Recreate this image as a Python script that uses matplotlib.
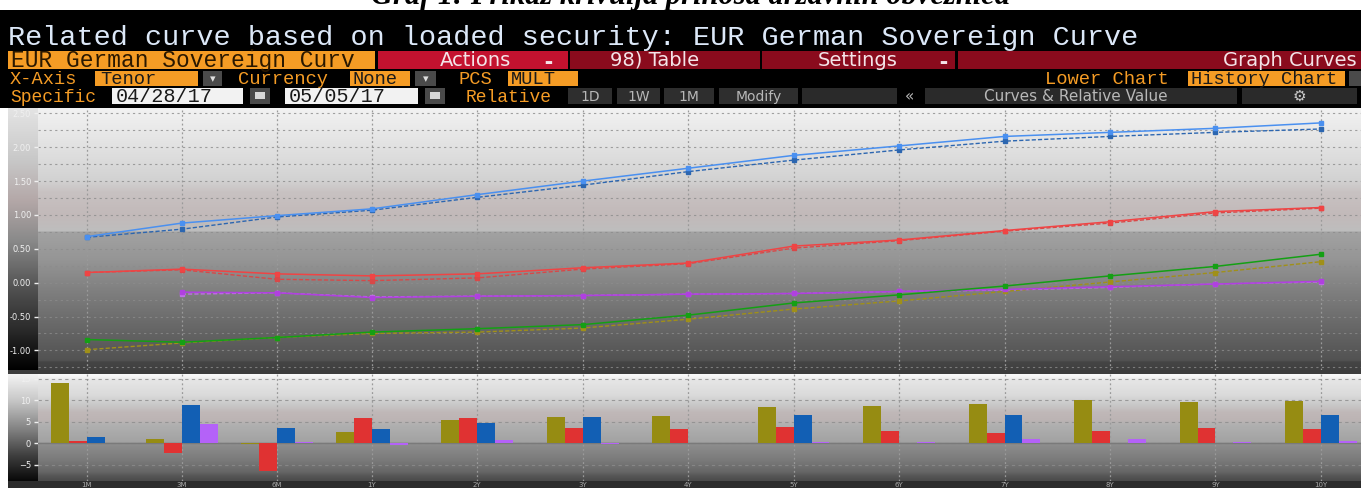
import numpy as np
import matplotlib.pyplot as plt
from matplotlib.colors import to_rgb
from matplotlib.patches import Rectangle

W, H = 1361, 488

# ---- data ----
tenors = ['1M', '3M', '6M', '1Y', '2Y', '3Y', '4Y', '5Y', '6Y', '7Y', '8Y', '9Y', '10Y']
xpos = [0, 0.9, 1.8, 2.7, 3.7, 4.7, 5.7, 6.7, 7.7, 8.7, 9.7, 10.7, 11.7]

blue_now = [0.68, 0.88, 0.99, 1.09, 1.30, 1.50, 1.69, 1.88, 2.02, 2.16, 2.22, 2.28, 2.36]
blue_prev = [0.67, 0.79, 0.97, 1.07, 1.26, 1.44, 1.64, 1.81, 1.96, 2.09, 2.16, 2.22, 2.27]
red_now = [0.15, 0.20, 0.13, 0.10, 0.13, 0.22, 0.29, 0.54, 0.63, 0.77, 0.90, 1.05, 1.11]
red_prev = [0.15, 0.19, 0.05, 0.03, 0.07, 0.20, 0.28, 0.51, 0.62, 0.76, 0.88, 1.03, 1.10]
purple_now = [np.nan, -0.14, -0.15, -0.22, -0.20, -0.19, -0.17, -0.16, -0.13, -0.10, -0.06, -0.02, 0.02]
purple_prev = [np.nan, -0.17, -0.15, -0.21, -0.20, -0.19, -0.17, -0.16, -0.13, -0.11, -0.07, -0.02, 0.01]
green_now = [-0.84, -0.88, -0.81, -0.73, -0.68, -0.62, -0.48, -0.30, -0.18, -0.05, 0.10, 0.24, 0.42]
green_prev = [-0.99, -0.89, -0.81, -0.75, -0.73, -0.67, -0.54, -0.39, -0.27, -0.13, 0.01, 0.15, 0.31]

# changes in bp (lower chart)
chg_olive = [14.0, 1.0, -0.3, 2.6, 5.3, 6.0, 6.4, 8.5, 8.7, 9.2, 10.1, 9.5, 9.9]
chg_red = [0.5, -2.3, -6.5, 5.9, 5.9, 3.5, 3.4, 3.7, 2.9, 2.3, 2.8, 3.5, 3.2]
chg_blue = [1.5, 9.0, 3.5, 3.2, 4.6, 6.0, 0.0, 6.6, 0.0, 6.6, 0.0, 0.0, 6.6]
chg_purple = [0.0, 4.4, 0.2, -0.5, 0.8, -0.2, 0.1, 0.3, 0.3, 0.9, 0.9, 0.3, 0.5]

top_ticks = [-1.0, -0.5, 0.0, 0.5, 1.0, 1.5, 2.0, 2.5]
low_ticks = [-5, 0, 5, 10, 15]

MONO = 'Liberation Mono'

fig = plt.figure(figsize=(W / 100, H / 100), dpi=100, facecolor='white')


def box(x0, y0, x1, y1, color, z=1):
    fig.add_artist(Rectangle((x0 / W, 1 - y1 / H), (x1 - x0) / W, (y1 - y0) / H,
                             transform=fig.transFigure, facecolor=color,
                             edgecolor='none', zorder=z))


def label(x, y, s, color, size, family=MONO, ha='left', **kw):
    fig.text(x / W, 1 - y / H, s, color=color, fontsize=size, family=family,
             ha=ha, va='baseline', zorder=5, **kw)


def gradient(ax, stops, y0, y1):
    ys = np.linspace(y0, y1, 400)
    pos = [s[0] for s in stops]
    cols = np.array([to_rgb(s[1]) for s in stops])
    img = np.stack([np.interp(ys, pos, cols[:, k]) for k in range(3)], axis=-1)[:, None, :]
    ax.imshow(img, extent=[0, 1, 0, 1], transform=ax.transAxes, aspect='auto',
              zorder=0, interpolation='bilinear')


# ---- caption (cut off at top) ----
fig.text(690 / W, 1 - 4 / H, 'Graf 1: Prikaz krivulja prinosa državnih obveznica',
         ha='center', va='baseline', family='Liberation Serif', fontweight='bold',
         style='italic', fontsize=22, color='black')

# ---- black Bloomberg header ----
box(0, 10, W, 108, 'black', z=0)
label(8, 45, 'Related curve based on loaded security: EUR German Sovereign Curve',
      '#dce8f8', 20.5)

# row 2
orange = '#f59c25'
darkred = '#8a0b1d'
box(8, 51, 375, 69, orange)
label(11, 67, 'EUR German Sovereign Curv', '#2a1800', 16.5)
box(378, 51, 568, 69, '#c3122f')
label(475, 66, 'Actions', '#f4e4e8', 14, family='DejaVu Sans', ha='center')
label(548, 65, '▬', '#f4e4e8', 6, family='DejaVu Sans', ha='center')
box(570, 51, 760, 69, darkred)
label(655, 66, '98) Table', '#f4e4e8', 14, family='DejaVu Sans', ha='center')
box(762, 51, 955, 69, darkred)
label(858, 66, 'Settings', '#f4e4e8', 14, family='DejaVu Sans', ha='center')
label(943, 65, '▬', '#f4e4e8', 6, family='DejaVu Sans', ha='center')
box(958, 51, W, 69, darkred)
label(1357, 66, 'Graph Curves', '#f4e4e8', 14, family='DejaVu Sans', ha='right')

# row 3
label(10, 84, 'X-Axis', orange, 13.5)
box(95, 71, 198, 86, orange)
label(100, 84, 'Tenor', '#1a1a1a', 13.5)
box(203, 71, 222, 86, '#4a4a4a')
label(212.5, 82, '▾', '#e0e0e0', 8, family='DejaVu Sans', ha='center')
label(238, 84, 'Currency', orange, 13.5)
box(350, 71, 410, 86, orange)
label(353, 84, 'None', '#1a1a1a', 13.5)
box(415, 71, 436, 86, '#4a4a4a')
label(425.5, 82, '▾', '#e0e0e0', 8, family='DejaVu Sans', ha='center')
label(458, 84, 'PCS', orange, 13.5)
box(508, 71, 578, 86, orange)
label(511, 84, 'MULT', '#1a1a1a', 13.5)
label(1045, 84, 'Lower Chart', orange, 13.5)
box(1188, 71, 1345, 86, orange)
label(1191, 84, 'History Chart', '#1a1a1a', 13.5)
box(1349, 71, W, 86, '#4a4a4a')

# row 4
label(10, 102, 'Specific', orange, 13)
box(112, 88, 243, 104, '#f2f2f2')
label(116, 102, '04/28/17', '#1a1a1a', 14.5)
box(250, 88, 270, 104, '#4a4a4a')
box(255, 92, 265, 99, '#d8d8d8')
box(285, 88, 418, 104, '#f2f2f2')
label(289, 102, '05/05/17', '#1a1a1a', 14.5)
box(425, 88, 445, 104, '#4a4a4a')
box(430, 92, 440, 99, '#d8d8d8')
label(466, 102, 'Relative', orange, 13)
for x0, x1, s in [(568, 612, '1D'), (617, 660, '1W'), (664, 714, '1M'), (719, 798, 'Modify')]:
    box(x0, 88, x1, 104, '#2e2e2e')
    label((x0 + x1) / 2, 101, s, '#b8b8b8', 10, family='DejaVu Sans', ha='center')
box(802, 88, 897, 104, '#2a2a2a')
label(910, 101, '«', '#b8b8b8', 11, family='DejaVu Sans', ha='center')
box(925, 88, 1237, 104, '#2a2a2a')
label(1076, 101, 'Curves & Relative Value', '#b8b8b8', 11, family='DejaVu Sans', ha='center')
box(1242, 88, 1357, 104, '#2a2a2a')
label(1299, 101, '⚙', '#c8c8c8', 11, family='DejaVu Sans', ha='center')

# ---- chart frames ----
box(8, 370, W, 374, '#3c3c3c', z=0)
box(8, 481, W, H, '#2c2c2c', z=0)

# left label strips
s1 = fig.add_axes([8 / W, 1 - 370 / H, 30 / W, 262 / H])
gradient(s1, [(108, '#e4e4e4'), (160, '#c8c8c8'), (200, '#b4a8a8'), (240, '#8a8a8a'),
              (290, '#505050'), (330, '#2a2a2a'), (370, '#000000')], 108, 370)
s1.axis('off')
s2 = fig.add_axes([8 / W, 1 - 481 / H, 30 / W, 107 / H])
gradient(s2, [(374, '#f4f4f4'), (400, '#c8c8c8'), (430, '#808080'), (455, '#404040'),
              (481, '#080808')], 374, 481)
s2.axis('off')

# ---- upper chart: curves ----
ax1 = fig.add_axes([38 / W, 1 - 370 / H, (W - 38) / W, 262 / H])
gradient(ax1, [(108, '#f2f2f2'), (125, '#ebebeb'), (150, '#e0e0e0'), (180, '#d2d2d2'),
               (192, '#c8c2c2'), (215, '#c2b9b9'), (231, '#bebebe'), (232, '#a2a2a2'),
               (260, '#959595'), (290, '#808080'), (320, '#6c6c6c'), (345, '#5c5c5c'),
               (361, '#525252'), (362, '#454545'), (370, '#404040')], 108, 370)

ax1.set_xticks(xpos)
ax1.set_yticks(top_ticks)
ax1.set_yticks(np.arange(-1.25, 2.6, 0.25), minor=True)
ax1.grid(True, which='both', axis='y', color='#8c8c8c', linestyle=(0, (2, 3)), lw=0.8, alpha=0.8)
ax1.grid(True, axis='x', color='#9a9a9a', linestyle=(0, (1.5, 2)), lw=0.9)

mk = dict(marker='s', markersize=3.2)
ax1.plot(xpos, blue_prev, color='#2c66b0', lw=1, ls=(0, (3, 1.5)), **mk, zorder=3)
ax1.plot(xpos, blue_now, color='#4a90f0', lw=1.1, **mk, zorder=4)
ax1.plot(xpos, red_prev, color='#d84848', lw=1, ls=(0, (3, 1.5)), **mk, zorder=3)
ax1.plot(xpos, red_now, color='#f04444', lw=1.1, **mk, zorder=4)
ax1.plot(xpos, purple_prev, color='#c070e8', lw=1, ls=(0, (3, 1.5)), **mk, zorder=3)
ax1.plot(xpos, purple_now, color='#b040e0', lw=1.1, **mk, zorder=4)
ax1.plot(xpos, green_prev, color='#a09018', lw=1, ls=(0, (3, 1.5)), **mk, zorder=3)
ax1.plot(xpos, green_now, color='#14a014', lw=1.1, **mk, zorder=4)

ax1.set_xlim(-0.464, 12.08)
ax1.set_ylim(-1.29, 2.58)
ax1.set_yticklabels(['%.2f' % t for t in top_ticks])
ax1.tick_params(axis='y', which='major', colors='#f0f0f0', labelsize=6, length=3, width=1, pad=2)
ax1.tick_params(axis='y', which='minor', length=0)
ax1.tick_params(axis='x', length=0, labelbottom=False)
for sp in ax1.spines.values():
    sp.set_visible(False)

# ---- lower chart: changes (bp) ----
ax2 = fig.add_axes([38 / W, 1 - 481 / H, (W - 38) / W, 107 / H])
gradient(ax2, [(374, '#fafafa'), (378, '#f0f0f0'), (380, '#e6e6e6'), (395, '#dadada'),
               (405, '#c8c8c8'), (412, '#c0b8b8'), (420, '#bcb4b4'), (425, '#b0b0b0'),
               (442, '#a2a2a2'), (444, '#8e8e8e'), (460, '#7a7a7a'), (472, '#666666'),
               (476, '#565656'), (481, '#4a4a4a')], 374, 481)

bw = 0.17
xs = np.array(xpos)
ax2.bar(xs - 1.5 * bw, chg_olive, bw, color='#968c12', zorder=3)
ax2.bar(xs - 0.5 * bw, chg_red, bw, color='#e03232', zorder=3)
ax2.bar(xs + 0.5 * bw, chg_blue, bw, color='#125fb4', zorder=3)
ax2.bar(xs + 1.5 * bw, chg_purple, bw, color='#b462f8', zorder=3)
ax2.axhline(0, color='#7a7a7a', lw=1, zorder=2)

ax2.set_xticks(xpos)
ax2.set_xticklabels(tenors)
ax2.set_yticks(low_ticks)
ax2.grid(True, axis='y', color='#8c8c8c', linestyle=(0, (3, 3)), lw=0.8, alpha=0.8)
ax2.grid(True, axis='x', color='#9a9a9a', linestyle=(0, (1.5, 2)), lw=0.9)
ax2.set_xlim(-0.464, 12.08)
ax2.set_ylim(-8.8, 16.1)
ax2.tick_params(axis='y', colors='#f0f0f0', labelsize=6, length=3, width=1, pad=2)
ax2.tick_params(axis='x', colors='#a8a8a8', labelsize=5, length=0, pad=0.5)
for sp in ax2.spines.values():
    sp.set_visible(False)

fig.savefig('out.png', dpi=100, facecolor=fig.get_facecolor())
